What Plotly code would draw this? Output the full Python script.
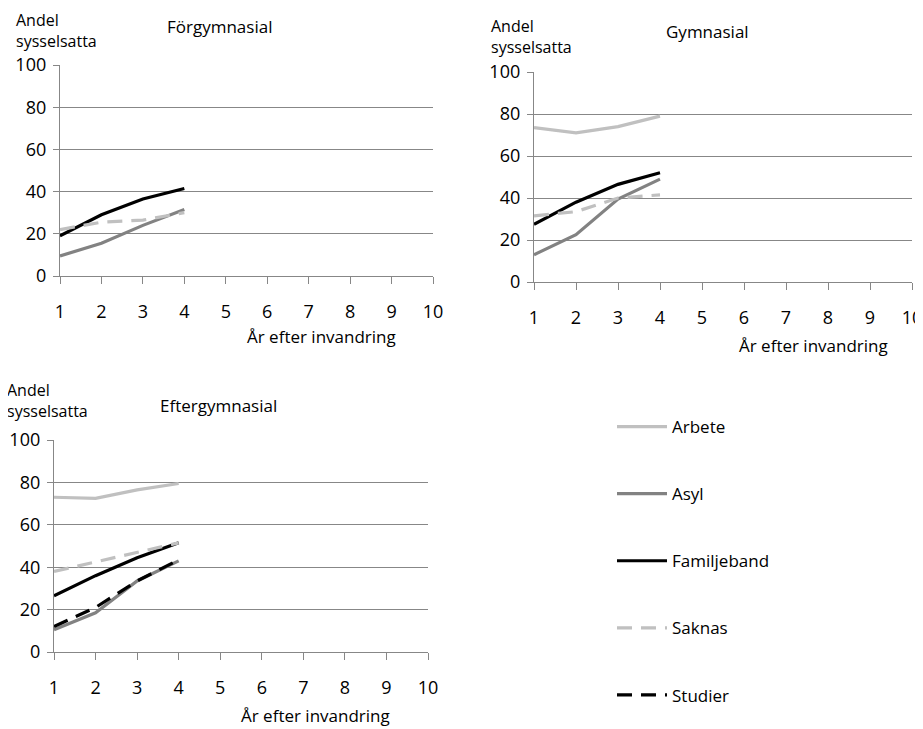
import plotly.graph_objects as go

# The page body adds an 8px margin; the figure is sized and laid out to compensate.
OFF = 8
W, H = 923 - OFF, 729 - OFF

years = [1, 2, 3, 4]
x_ticks = [1, 2, 3, 4, 5, 6, 7, 8, 9, 10]
y_ticks = [0, 20, 40, 60, 80, 100]

panel_titles = ["Förgymnasial", "Gymnasial", "Eftergymnasial"]
y_title = "Andel<br>sysselsatta"
x_title = "År efter invandring"

# Förgymnasial
forg_asyl = [9.5, 15.5, 24, 31.5]
forg_familj = [19, 29, 36.5, 41.5]
forg_saknas = [22, 25.5, 26.5, 30]

# Gymnasial
gym_arbete = [73.5, 71, 74, 79]
gym_asyl = [13, 22.5, 39.5, 49]
gym_familj = [27.5, 38, 46.5, 52]
gym_saknas = [31.5, 33.5, 40, 41.5]

# Eftergymnasial
efter_arbete = [73, 72.5, 76.5, 79.5]
efter_asyl = [10.5, 18.5, 33.5, 43]
efter_familj = [26.5, 36, 44.5, 51.5]
efter_saknas = [38, 42.5, 47, 51.5]
efter_studier = [12, 21, 33.5, 43.5]

series_style = {
    "Arbete": dict(color="#c0c0c0", dash="solid"),
    "Asyl": dict(color="#828282", dash="solid"),
    "Familjeband": dict(color="#000000", dash="solid"),
    "Saknas": dict(color="#c0c0c0", dash="15px,9px"),
    "Studier": dict(color="#000000", dash="15px,9px"),
}
legend_order = ["Arbete", "Asyl", "Familjeband", "Saknas", "Studier"]

panels = [
    ("x", "y", {"Asyl": forg_asyl, "Familjeband": forg_familj, "Saknas": forg_saknas}, False),
    ("x2", "y2", {"Arbete": gym_arbete, "Asyl": gym_asyl, "Familjeband": gym_familj, "Saknas": gym_saknas}, False),
    ("x3", "y3", {"Arbete": efter_arbete, "Asyl": efter_asyl, "Familjeband": efter_familj,
                  "Saknas": efter_saknas, "Studier": efter_studier}, True),
]

FONT = "'Open Sans', sans-serif"

fig = go.Figure()
for xa, ya, data, show in panels:
    for name in legend_order:
        if name not in data:
            continue
        st = series_style[name]
        fig.add_trace(go.Scatter(
            x=years, y=data[name], mode="lines", name=name,
            xaxis=xa, yaxis=ya, legendgroup=name, showlegend=show,
            line=dict(color=st["color"], width=3.2, dash=st["dash"]),
            hoverinfo="skip",
        ))

def px_x(p):
    return (p - OFF) / W

def px_y(p):
    return 1 - (p - OFF) / H

doms = [
    ([px_x(60), px_x(433)], [px_y(276), px_y(65)]),
    ([px_x(534), px_x(912)], [px_y(282), px_y(72)]),
    ([px_x(54), px_x(428)], [px_y(652), px_y(440)]),
]

axis_color = "#878787"
layout = dict(
    width=W, height=H,
    margin=dict(l=0, r=0, t=0, b=0),
    paper_bgcolor="white", plot_bgcolor="white",
    font=dict(family=FONT, size=16, color="#000000"),
    legend=dict(x=px_x(612), y=px_y(409), xanchor="left", yanchor="top",
                font=dict(size=17, family=FONT), tracegroupgap=42,
                itemwidth=50, bgcolor="rgba(0,0,0,0)"),
)
for i, (dx, dy) in enumerate(doms):
    sfx = "" if i == 0 else str(i + 1)
    layout["xaxis" + sfx] = dict(
        domain=dx, range=[1, 10], tickvals=x_ticks, showgrid=False,
        showline=True, linecolor=axis_color, linewidth=1.3,
        ticks="outside", ticklen=7, tickcolor=axis_color, tickwidth=1.3,
        ticklabelstandoff=12, zeroline=False, automargin=False,
        anchor="y" + sfx, fixedrange=True,
        tickfont=dict(size=18, family=FONT),
    )
    layout["yaxis" + sfx] = dict(
        domain=dy, range=[0, 100], tickvals=y_ticks, showgrid=True,
        gridcolor=axis_color, gridwidth=1.3,
        showline=True, linecolor=axis_color, linewidth=1.3,
        ticks="outside", ticklen=6, tickcolor=axis_color, tickwidth=1.3,
        ticklabelstandoff=3, zeroline=False, automargin=False,
        anchor="x" + sfx, fixedrange=True,
        tickfont=dict(size=18, family=FONT),
    )
fig.update_layout(**layout)

ann = []
# y titles (page px positions: left, vertical centre of the two lines)
for (lx, cy) in [(15, 31), (490, 37), (6, 400)]:
    ann.append(dict(text=y_title, x=px_x(lx), y=px_y(cy), xref="paper", yref="paper",
                    xanchor="left", yanchor="middle", align="left", showarrow=False,
                    borderpad=0, font=dict(size=16, family=FONT)))
# panel titles (center x, center y)
for t, (cx, cy) in zip(panel_titles, [(219, 27), (707, 32), (218, 405)]):
    ann.append(dict(text=t, x=px_x(cx), y=px_y(cy), xref="paper", yref="paper",
                    xanchor="center", yanchor="middle", showarrow=False,
                    font=dict(size=17, family=FONT)))
# x titles
for (cx, cy) in [(321, 336), (813, 345), (315, 715)]:
    ann.append(dict(text=x_title, x=px_x(cx), y=px_y(cy), xref="paper", yref="paper",
                    xanchor="center", yanchor="middle", showarrow=False,
                    font=dict(size=17, family=FONT)))
fig.update_layout(annotations=ann)

fig.write_html("out.html")
